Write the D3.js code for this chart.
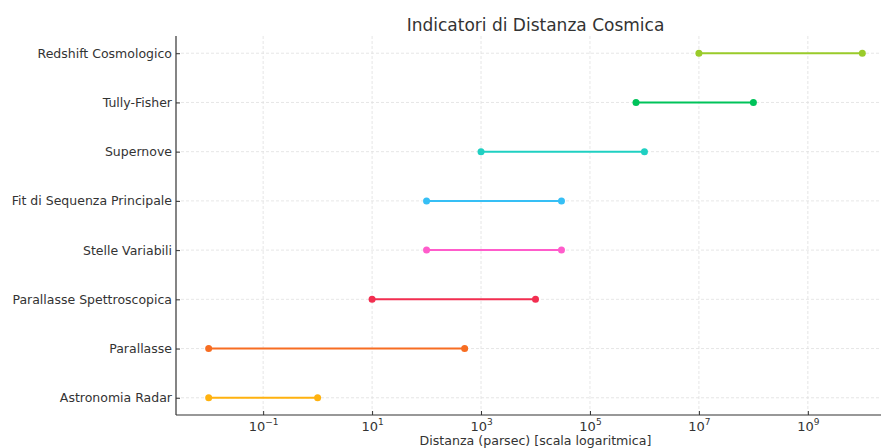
<!DOCTYPE html>
<html lang="it">
<head>
<meta charset="utf-8">
<title>Indicatori di Distanza Cosmica</title>
<script src="https://cdn.jsdelivr.net/npm/d3@7"></script>
<style>
  body { margin: 0; background: #fff; }
  svg { font-family: "DejaVu Sans", sans-serif; }
  .grid line { stroke: #e0e0e0; stroke-dasharray: 3,2; stroke-width: 0.8px; }
  .axis path { stroke: #333; stroke-width: 1.2px; }
  .axis line { stroke: #333; }
  .axis text { fill: #333; font-size: 12.5px; }
</style>
</head>
<body>
<div id="chart"></div>
<script>
// methods, bottom to top as drawn
var methods = ["Astronomia Radar", "Parallasse", "Parallasse Spettroscopica", "Stelle Variabili",
  "Fit di Sequenza Principale", "Supernove", "Tully-Fisher", "Redshift Cosmologico"];
var minDist = [0.01, 0.01, 10, 100, 100, 1000, 7e5, 1e7];
var maxDist = [1, 500, 1e4, 3e4, 3e4, 1e6, 1e8, 1e10];
var colors = ["#ffb20f", "#f76d22", "#f22e50", "#ff5ccb", "#36bff5", "#1fd0c2", "#00c35a", "#9acb2a"];
var tickValues = [1e-1, 1e1, 1e3, 1e5, 1e7, 1e9];
var tickExp = ["\u22121", "1", "3", "5", "7", "9"];

var width = 881, height = 448;
var margin = { top: 36, right: -14, bottom: 33, left: 176 };

var svg = d3.select("#chart").append("svg")
  .attr("width", width)
  .attr("height", height);

var x = d3.scaleLog()
  .domain([Math.pow(10, -2.6), Math.pow(10, 10.6)])
  .range([margin.left, width - margin.right]);

var y = d3.scaleLinear()
  .domain([-0.35, methods.length - 1 + 0.35])
  .range([height - margin.bottom, margin.top]);

var idx = d3.range(methods.length);

// grid
var grid = svg.append("g").attr("class", "grid");
grid.selectAll(".gx").data(tickValues).enter().append("line")
  .attr("x1", d => x(d)).attr("x2", d => x(d))
  .attr("y1", margin.top).attr("y2", height - margin.bottom);
grid.selectAll(".gy").data(idx).enter().append("line")
  .attr("x1", margin.left).attr("x2", width)
  .attr("y1", d => y(d)).attr("y2", d => y(d));

// ranges
var rows = svg.append("g").selectAll("g").data(idx).enter().append("g");
rows.append("line")
  .attr("x1", i => x(minDist[i])).attr("x2", i => x(maxDist[i]))
  .attr("y1", i => y(i)).attr("y2", i => y(i))
  .attr("stroke", i => colors[i])
  .attr("stroke-width", 2);
rows.append("circle")
  .attr("cx", i => x(minDist[i])).attr("cy", i => y(i)).attr("r", 3.5)
  .attr("fill", i => colors[i]);
rows.append("circle")
  .attr("cx", i => x(maxDist[i])).attr("cy", i => y(i)).attr("r", 3.5)
  .attr("fill", i => colors[i]);

// x axis
var xAxis = svg.append("g")
  .attr("class", "axis")
  .attr("transform", "translate(0," + (height - margin.bottom) + ")")
  .call(d3.axisBottom(x).tickValues(tickValues).tickSizeInner(-4).tickSizeOuter(0).tickFormat(""))
  .attr("font-family", "DejaVu Sans, sans-serif");
xAxis.select(".domain").attr("d", "M" + margin.left + ",0H" + width);
var xl = xAxis.selectAll(".tick").append("text")
  .attr("y", 16).attr("text-anchor", "middle").attr("fill", "#333")
  .style("font-size", "13px");
xl.append("tspan").text("10");
xl.append("tspan").attr("dy", -6).style("font-size", "9px").text((d, i) => tickExp[i]);

// y axis
var yAxis = svg.append("g")
  .attr("class", "axis")
  .attr("transform", "translate(" + margin.left + ",0)")
  .call(d3.axisLeft(y).tickValues(idx).tickSizeInner(-4).tickSizeOuter(0).tickPadding(4)
    .tickFormat(i => methods[i]))
  .attr("font-family", "DejaVu Sans, sans-serif");
yAxis.select(".domain").attr("d", "M0," + margin.top + "V" + (height - margin.bottom));

// labels
svg.append("text")
  .attr("x", (margin.left + width - margin.right) / 2)
  .attr("y", 31)
  .attr("text-anchor", "middle")
  .attr("fill", "#333")
  .style("font-size", "17px")
  .text("Indicatori di Distanza Cosmica");

svg.append("text")
  .attr("x", (margin.left + width - margin.right) / 2)
  .attr("y", 445)
  .attr("text-anchor", "middle")
  .attr("fill", "#333")
  .style("font-size", "12.6px")
  .text("Distanza (parsec) [scala logaritmica]");
</script>
</body>
</html>
